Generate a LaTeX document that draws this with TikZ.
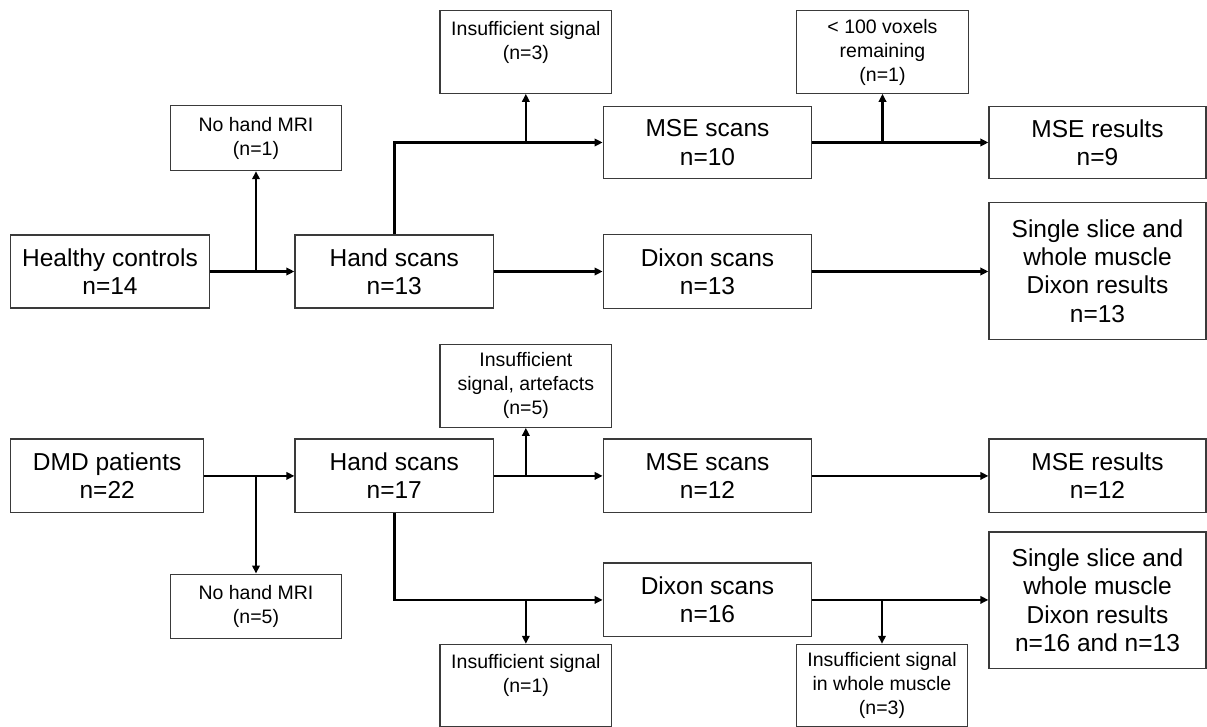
\documentclass[tikz,border=0pt]{standalone}
\usepackage{fontspec}
\setmainfont{Liberation Sans}
\usepackage{xcolor}
\usepackage{tikz}
\usetikzlibrary{arrows.meta}
\definecolor{boxline}{HTML}{3A3A3A}

\begin{document}
\begin{tikzpicture}[x=1pt,y=-1pt,
        bigbox/.style={draw=boxline,line width=1.3pt,align=center,inner sep=0pt,
            font=\fontsize{24.5}{28.3}\selectfont},
        smallbox/.style={draw=boxline,line width=1.1pt,align=center,inner sep=0pt,
            minimum width=171.7pt,font=\fontsize{19.5}{24}\selectfont},
        conn/.style={line width=2.6pt,-{Triangle[length=8pt,width=7.5pt]}},
        stem/.style={line width=2.6pt}]
            \useasboundingbox (0,0) rectangle (1207,727);

            % healthy controls
            \node[bigbox,minimum width=198.6pt,minimum height=73pt] (hc) at (110,271.5) {Healthy controls\\n=14};
            \node[bigbox,minimum width=198.5pt,minimum height=73pt] (hsA) at (394.25,271.5) {Hand scans\\n=13};
            \node[smallbox,minimum height=65pt] (nomriA) at (256,138.2) {No hand MRI\\(n=1)};
            \node[smallbox,minimum height=82.6pt] (insA) at (525.85,52) {Insufficient signal\\(n=3)\\~};
            \node[bigbox,minimum width=208.5pt,minimum height=71.6pt] (mseA) at (707.5,142.5) {MSE scans\\n=10};
            \node[smallbox,minimum height=82.6pt] (voxA) at (882.5,52) {< 100 voxels\\remaining\\(n=1)};
            \node[bigbox,minimum width=217pt,minimum height=71.6pt] (resA) at (1097.5,142.5) {MSE results\\n=9};
            \node[bigbox,minimum width=208.5pt,minimum height=74pt] (dixA) at (707.5,271.5) {Dixon scans\\n=13};
            \node[bigbox,minimum width=217pt,minimum height=136.6pt] (dixresA) at (1097.5,271) {Single slice and\\whole muscle\\Dixon results\\n=13};

            \draw[conn] (hc) -- (hsA);
            \draw[conn] (hc.east -| nomriA.south) -- (nomriA.south);
            \draw[conn] (hsA.north) |- (mseA.west);
            \draw[conn] (insA.south |- mseA.west) -- (insA.south);
            \draw[conn] (mseA) -- (resA);
            \draw[conn] (voxA.south |- mseA.east) -- (voxA.south);
            \draw[conn] (hsA) -- (dixA);
            \draw[conn] (dixA.east) -- (dixA.east -| dixresA.west);

            % DMD patients
            \node[bigbox,minimum width=193pt,minimum height=73.7pt] (dmd) at (107.2,475.9) {DMD patients\\n=22};
            \node[bigbox,minimum width=198.5pt,minimum height=73.7pt] (hsB) at (394.25,475.9) {Hand scans\\n=17};
            \node[smallbox,minimum height=83pt] (insB) at (525.85,385.8) {Insufficient\\signal, artefacts\\(n=5)};
            \node[smallbox,minimum height=64.7pt] (nomriB) at (256,606.4) {No hand MRI\\(n=5)};
            \node[bigbox,minimum width=208.5pt,minimum height=73.7pt] (mseB) at (707.5,475.9) {MSE scans\\n=12};
            \node[bigbox,minimum width=217pt,minimum height=73.7pt] (resB) at (1097.5,475.9) {MSE results\\n=12};
            \node[bigbox,minimum width=208.5pt,minimum height=73.7pt] (dixB) at (707.5,599.9) {Dixon scans\\n=16};
            \node[bigbox,minimum width=217pt,minimum height=136.3pt] (dixresB) at (1097.5,600.2) {Single slice and\\whole muscle\\Dixon results\\n=16 and n=13};
            \node[smallbox,minimum height=82pt] (insC) at (525.85,685.3) {Insufficient signal\\(n=1)\\~};
            \node[smallbox,minimum height=82pt] (insD) at (882,685.3) {Insufficient signal\\in whole muscle\\(n=3)};

            \draw[conn] (dmd) -- (hsB);
            \draw[conn] (dmd.east -| nomriB.north) -- (nomriB.north);
            \draw[conn] (hsB) -- (mseB);
            \draw[conn] (insB.south |- hsB.east) -- (insB.south);
            \draw[conn] (mseB) -- (resB);
            \draw[conn] (hsB.south) |- (dixB.west);
            \draw[conn] (insC.north |- dixB.west) -- (insC.north);
            \draw[conn] (dixB.east) -- (dixB.east -| dixresB.west);
            \draw[conn] (insD.north |- dixB.east) -- (insD.north);
        \end{tikzpicture}
\end{document}
